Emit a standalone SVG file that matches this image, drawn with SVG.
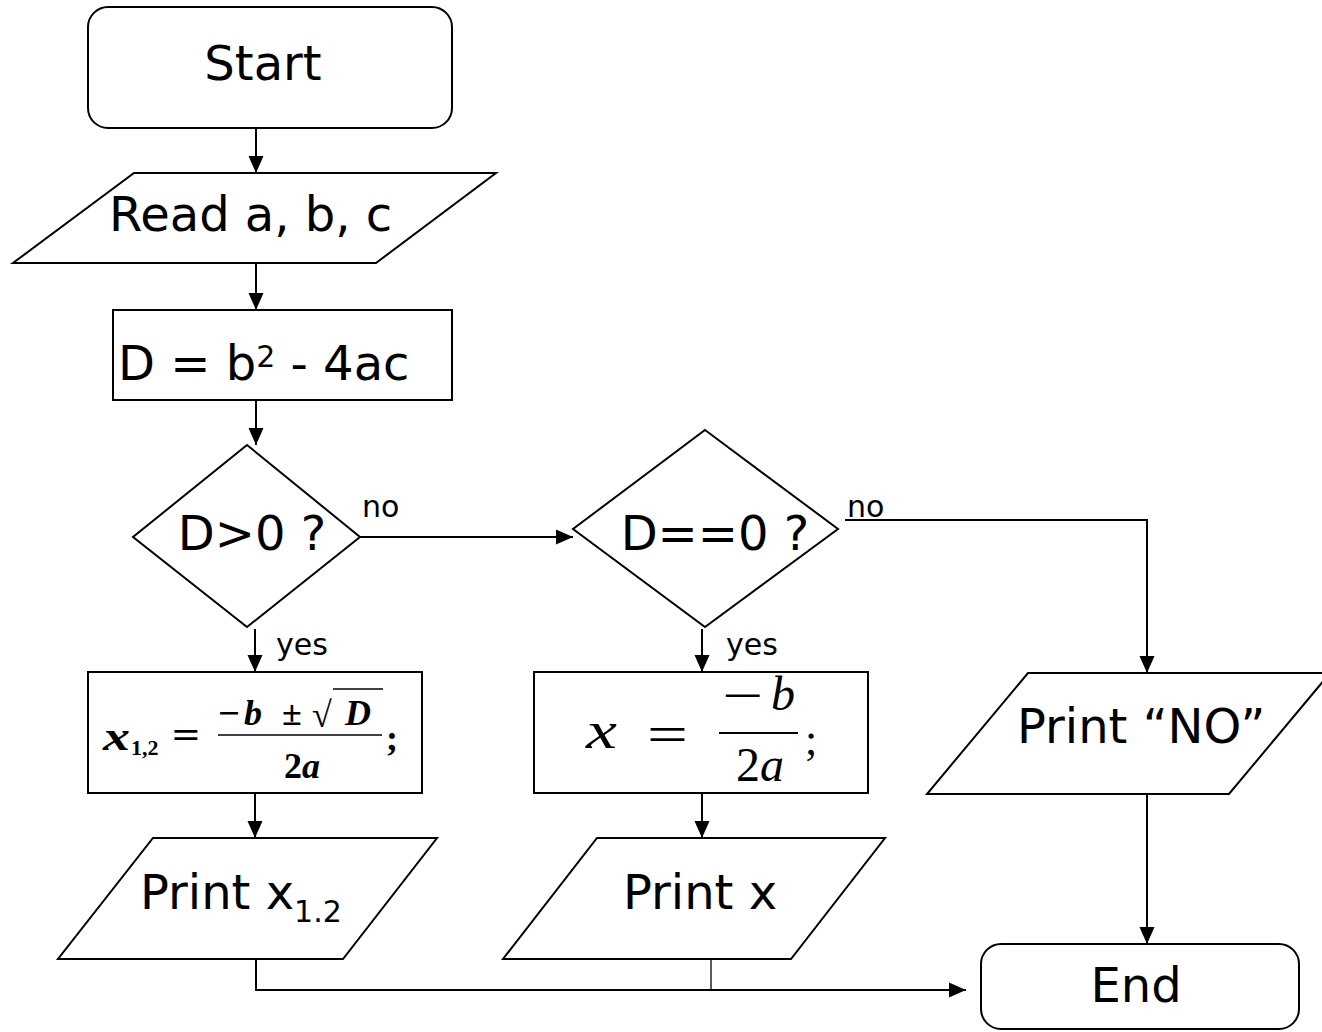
<svg xmlns="http://www.w3.org/2000/svg" width="1322" height="1032" viewBox="0 0 1322 1032">
<style>
.shape{fill:#fff;stroke:#000;stroke-width:2}
.conn{fill:none;stroke:#000;stroke-width:2}
.thin{fill:none;stroke:#000;stroke-width:1.3}
.lbl{font-family:"DejaVu Sans",Verdana,sans-serif;font-size:48px;fill:#000}
.sm{font-family:"DejaVu Sans",Verdana,sans-serif;font-size:30px;fill:#000}
.m1{font-family:"Liberation Serif","Times New Roman",serif;font-style:italic;font-weight:bold;fill:#000}
.m1u{font-family:"Liberation Serif","Times New Roman",serif;font-weight:bold;fill:#000}
.m2{font-family:"Liberation Serif","Times New Roman",serif;font-style:italic;fill:#000}
.m2u{font-family:"Liberation Serif","Times New Roman",serif;fill:#000}
</style>
<defs>
<marker id="ah" markerWidth="18" markerHeight="18" refX="17" refY="8" orient="auto" markerUnits="userSpaceOnUse">
<path d="M0,0.5 L17,8 L0,15.5 z" fill="#000"/>
</marker>
</defs>
<rect width="1322" height="1032" fill="#fff"/>

<g id="connectors">
<line class="conn" x1="256" y1="128" x2="256" y2="173" marker-end="url(#ah)"/>
<line class="conn" x1="256" y1="263" x2="256" y2="310" marker-end="url(#ah)"/>
<line class="conn" x1="256" y1="400" x2="256" y2="445" marker-end="url(#ah)"/>
<line class="conn" x1="255" y1="629" x2="255" y2="672" marker-end="url(#ah)"/>
<line class="conn" x1="360" y1="537" x2="573" y2="537" marker-end="url(#ah)"/>
<line class="conn" x1="702" y1="629" x2="702" y2="672" marker-end="url(#ah)"/>
<polyline class="conn" points="845,520 1147,520 1147,673" marker-end="url(#ah)"/>
<line class="conn" x1="255" y1="793" x2="255" y2="838" marker-end="url(#ah)"/>
<line class="conn" x1="702" y1="793" x2="702" y2="838" marker-end="url(#ah)"/>
<line class="conn" x1="1147" y1="794" x2="1147" y2="944" marker-end="url(#ah)"/>
<polyline class="conn" points="256,959 256,990 966,990" marker-end="url(#ah)"/>
<line class="thin" x1="711" y1="959" x2="711" y2="990"/>
<text class="sm" x="362" y="517">no</text>
<text class="sm" x="847" y="517">no</text>
<text class="sm" x="276" y="655">yes</text>
<text class="sm" x="726" y="655">yes</text>
</g>

<g id="start">
<rect class="shape" x="88" y="7" width="364" height="121" rx="20" ry="20"/>
<text class="lbl" x="263" y="80" text-anchor="middle">Start</text>
</g>

<g id="read">
<polygon class="shape" points="134,173 496,173 376,263 13,263"/>
<text class="lbl" x="109" y="231">Read a, b, c</text>
</g>

<g id="calc-d">
<rect class="shape" x="113" y="310" width="339" height="90"/>
<text class="lbl" x="118" y="380">D = b<tspan font-size="30" dy="-13">2</tspan><tspan dy="13"> - 4ac</tspan></text>
</g>

<g id="dec1">
<polygon class="shape" points="247,445 360,537 247,627 133,537"/>
<text class="lbl" x="252" y="550" text-anchor="middle">D&gt;0 ?</text>
</g>

<g id="dec2">
<polygon class="shape" points="705,430 838,529 705,627 573,529"/>
<text class="lbl" x="715" y="550" text-anchor="middle">D==0 ?</text>
</g>

<g id="roots2">
<rect class="shape" x="88" y="672" width="334" height="121"/>
<text class="m1" x="103" y="750" font-size="40" textLength="27" lengthAdjust="spacingAndGlyphs">x</text>
<text class="m1u" x="131" y="755" font-size="22">1,2</text>
<text class="m1u" x="172" y="748" font-size="38" textLength="28" lengthAdjust="spacingAndGlyphs">=</text>
<line x1="218" y1="735" x2="382" y2="735" stroke="#000" stroke-width="1.6"/>
<text class="m1u" x="218" y="725" font-size="36" textLength="22" lengthAdjust="spacingAndGlyphs">−</text>
<text class="m1" x="244" y="725" font-size="36">b</text>
<text class="m1u" x="282" y="725" font-size="36">±</text>
<text class="m1u" x="312" y="727" font-size="36">√</text>
<line x1="333" y1="689" x2="383" y2="689" stroke="#000" stroke-width="1.6"/>
<text class="m1" x="345" y="725" font-size="36">D</text>
<text class="m1" x="302" y="778" font-size="36" text-anchor="middle"><tspan font-style="normal">2</tspan>a</text>
<text class="m1u" x="386" y="750" font-size="36">;</text>
</g>

<g id="root1">
<rect class="shape" x="534" y="672" width="334" height="121"/>
<text class="m2" x="586" y="748" font-size="52" textLength="31" lengthAdjust="spacingAndGlyphs">x</text>
<text class="m2u" x="647" y="752" font-size="52" textLength="41" lengthAdjust="spacingAndGlyphs">=</text>
<line x1="719" y1="733" x2="798" y2="733" stroke="#000" stroke-width="2"/>
<text class="m2u" x="722" y="713" font-size="52" textLength="41" lengthAdjust="spacingAndGlyphs">−</text>
<text class="m2" x="771" y="710" font-size="48">b</text>
<text class="m2" x="760" y="781" font-size="48" text-anchor="middle"><tspan font-style="normal">2</tspan>a</text>
<text class="m2u" x="805" y="754" font-size="44">;</text>
</g>

<g id="print-x12">
<polygon class="shape" points="153,838 437,838 343,959 58,959"/>
<text class="lbl" x="140" y="909">Print x<tspan font-size="30" dy="13">1.2</tspan></text>
</g>

<g id="print-x">
<polygon class="shape" points="597,838 885,838 791,959 503,959"/>
<text class="lbl" x="700" y="909" text-anchor="middle">Print x</text>
</g>

<g id="print-no">
<polygon class="shape" points="1028,673 1330,673 1229,794 927,794"/>
<text class="lbl" x="1017" y="743">Print “NO”</text>
</g>

<g id="end">
<rect class="shape" x="981" y="944" width="318" height="85" rx="20" ry="20"/>
<text class="lbl" x="1136" y="1002" text-anchor="middle">End</text>
</g>
</svg>
